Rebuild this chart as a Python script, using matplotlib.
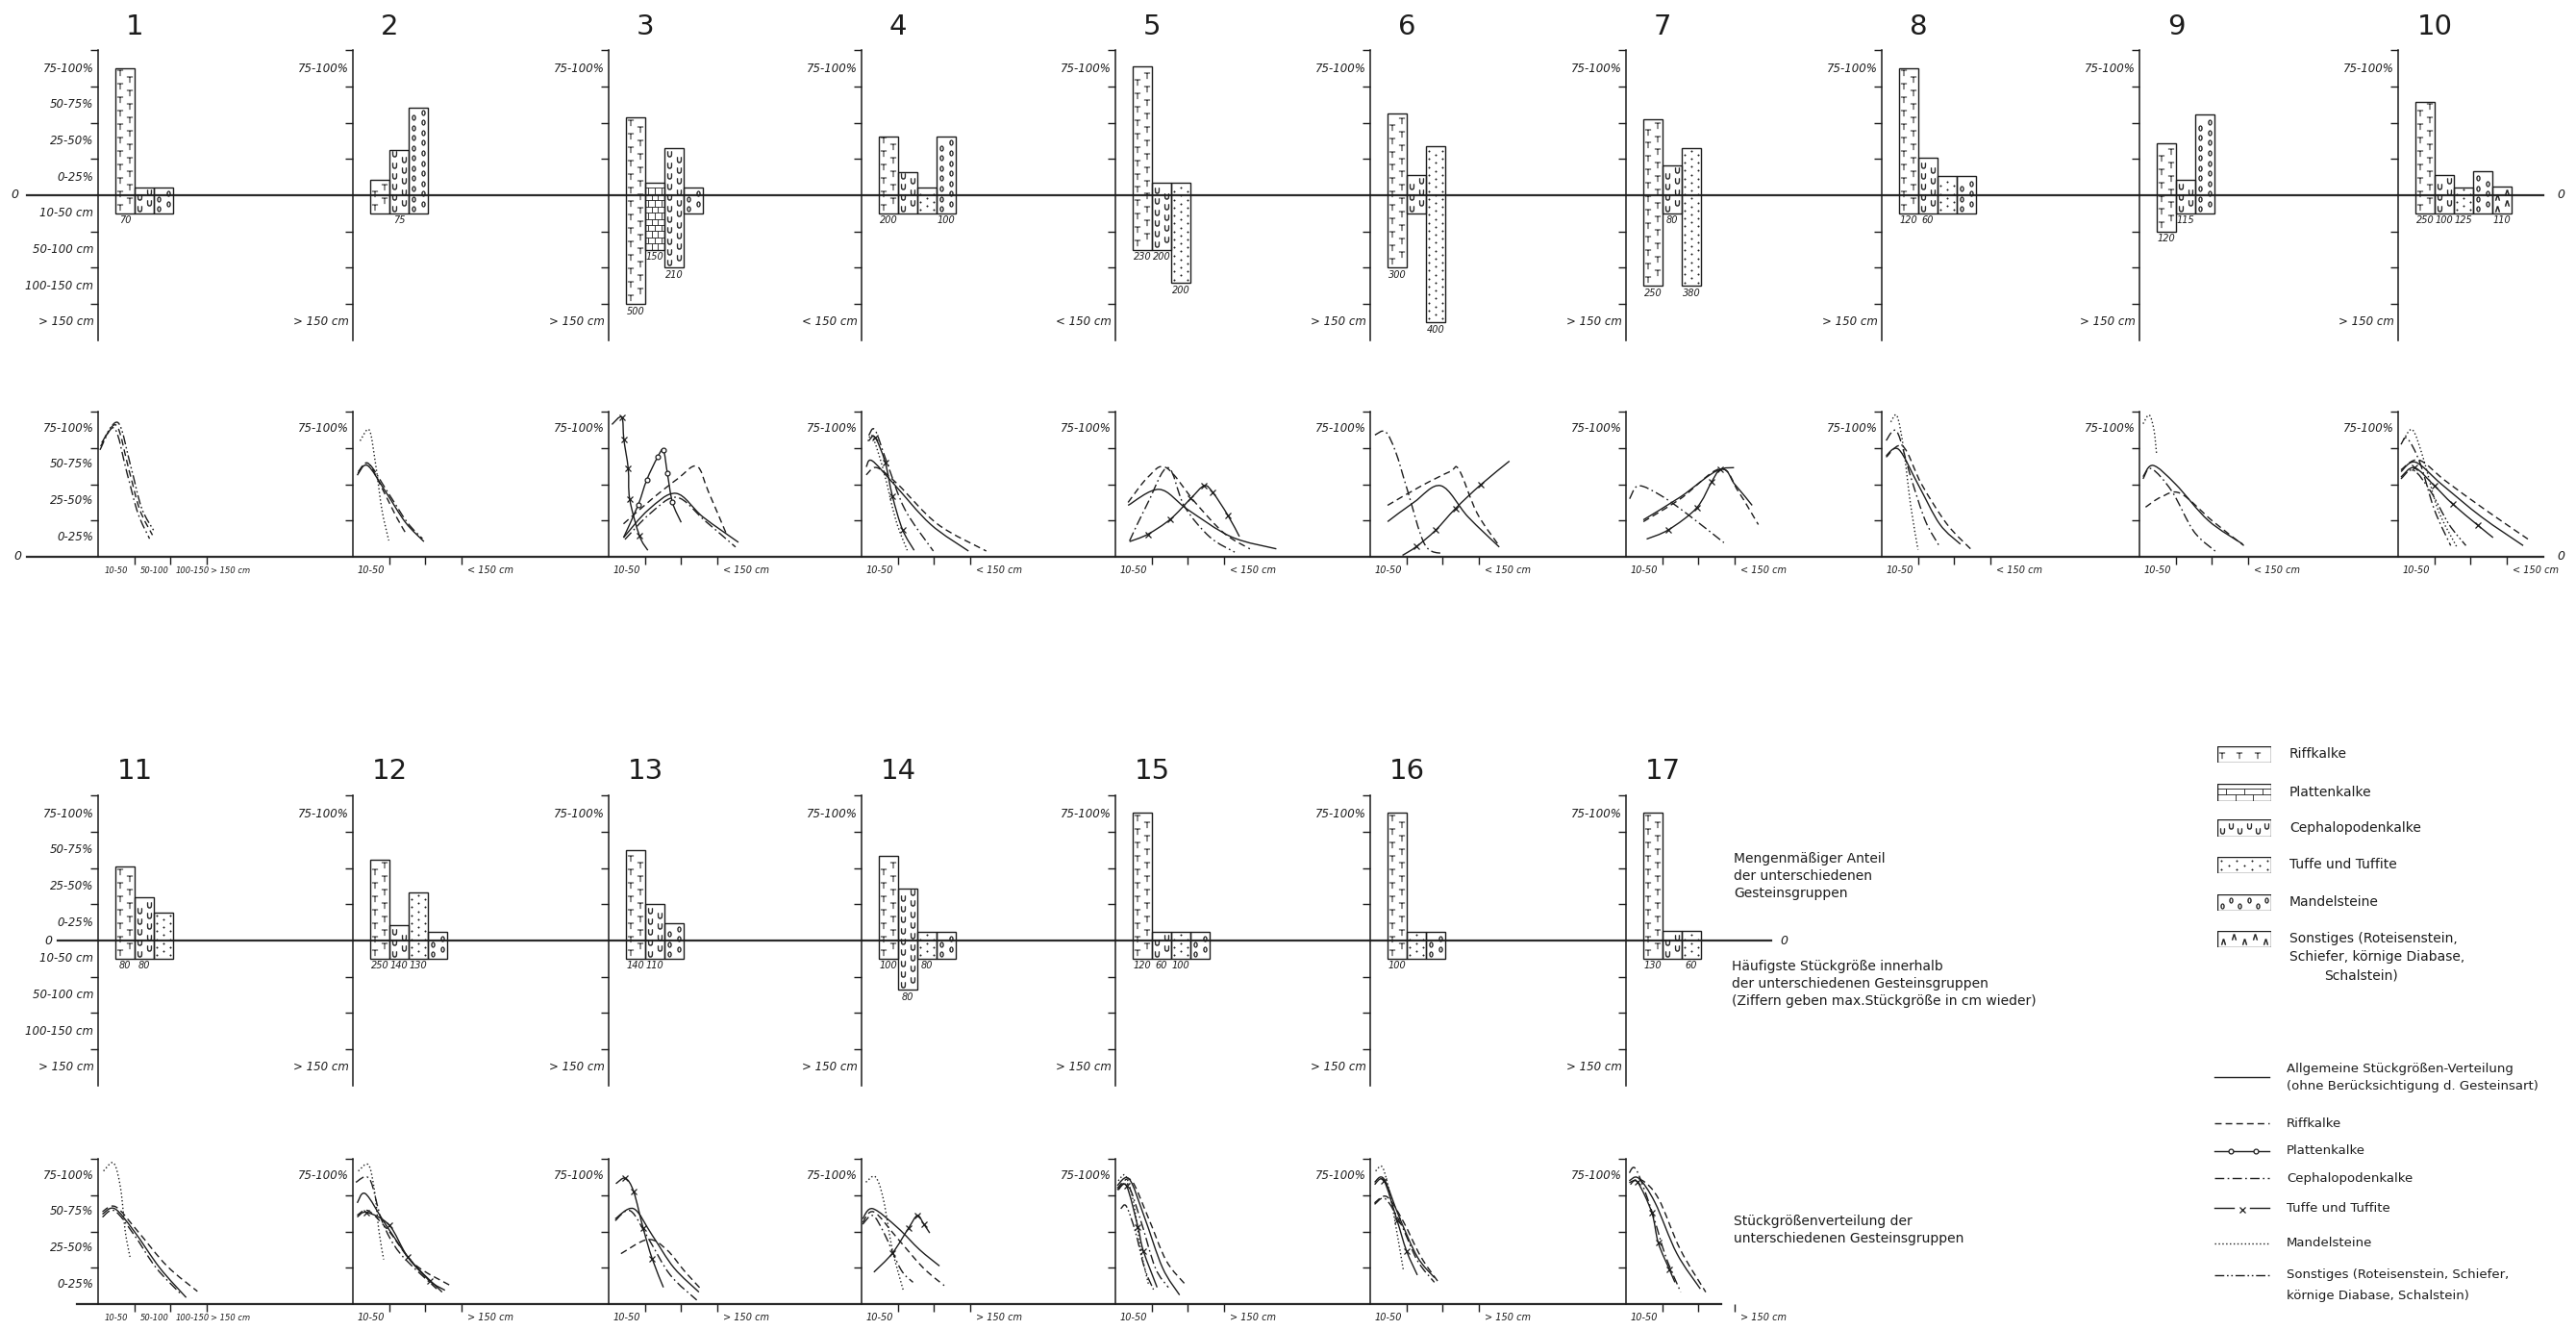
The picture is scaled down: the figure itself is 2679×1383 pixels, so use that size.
import numpy as np
import matplotlib
matplotlib.use("Agg")
import matplotlib.pyplot as plt
from matplotlib.path import Path
from matplotlib.patches import PathPatch, Rectangle
from matplotlib.collections import LineCollection

# ---------------------------------------------------------------- data
panel_titles = [str(i) for i in range(1, 18)]

# bar charts: upward = share (4 units = 100 %), downward = most frequent size class
bar_kinds = [
    ["R", "C", "M"], ["R", "C", "M"], ["R", "P", "C", "M"], ["R", "C", "T", "M"],
    ["R", "C", "T"], ["R", "C", "T"], ["R", "C", "T"], ["R", "C", "T", "M"],
    ["R", "C", "M"], ["R", "C", "T", "M", "S"],
    ["R", "C", "T"], ["R", "C", "T", "M"], ["R", "C", "M"], ["R", "C", "T", "M"],
    ["R", "C", "T", "M"], ["R", "T", "M"], ["R", "C", "T"],
]
bar_tops = [
    [3.51, 0.21, 0.21], [0.43, 1.24, 2.41], [2.14, 0.35, 1.30, 0.21], [1.63, 0.64, 0.21, 1.63],
    [3.56, 0.35, 0.35], [2.25, 0.55, 1.35], [2.10, 0.82, 1.31], [3.51, 1.04, 0.53, 0.53],
    [1.42, 0.42, 2.23], [2.58, 0.56, 0.22, 0.66, 0.24],
    [2.04, 1.19, 0.78], [2.23, 0.42, 1.33, 0.24], [2.50, 1.01, 0.49], [2.34, 1.44, 0.25, 0.25],
    [3.53, 0.25, 0.25, 0.25], [3.54, 0.25, 0.25], [3.54, 0.27, 0.27],
]
bar_bottoms = [
    [-0.5, -0.5, -0.5], [-0.5, -0.5, -0.5], [-3.0, -1.5, -2.0, -0.5], [-0.5, -0.5, -0.5, -0.5],
    [-1.5, -1.5, -2.42], [-2.0, -0.5, -3.5], [-2.5, -0.5, -2.5], [-0.5, -0.5, -0.5, -0.5],
    [-1.0, -0.5, -0.5], [-0.5, -0.5, -0.5, -0.5, -0.5],
    [-0.5, -0.5, -0.5], [-0.5, -0.5, -0.5, -0.5], [-0.5, -0.5, -0.5], [-0.5, -1.36, -0.5, -0.5],
    [-0.5, -0.5, -0.5, -0.5], [-0.5, -0.5, -0.5], [-0.5, -0.5, -0.5],
]
bar_labels = [
    ["70", "", ""], ["", "75", ""], ["500", "150", "210", ""], ["200", "", "", "100"],
    ["230", "200", "200"], ["300", "", "400"], ["250", "80", "380"], ["120", "60", "", ""],
    ["120", "115", ""], ["250", "100", "125", "", "110"],
    ["80", "80", ""], ["250", "140", "130", ""], ["140", "110", ""], ["100", "80", "80", ""],
    ["120", "60", "100", ""], ["100", "", ""], ["130", "", "60"],
]
bar_share_labels = ["75-100%", "50-75%", "25-50%", "0-25%"]
bar_size_labels = ["10-50 cm", "50-100 cm", "100-150 cm", "> 150 cm"]
bar_bottom_label = ["> 150 cm", "> 150 cm", "> 150 cm", "< 150 cm", "< 150 cm", "> 150 cm",
                    "> 150 cm", "> 150 cm", "> 150 cm", "> 150 cm",
                    "> 150 cm", "> 150 cm", "> 150 cm", "> 150 cm", "> 150 cm", "> 150 cm", "> 150 cm"]

# size-distribution curves (G = general distribution)
curve_kinds = [
    ["R", "C", "S"],
    ["M", "G", "C", "R"],
    ["T", "P", "R", "G", "C"],
    ["G", "R", "T", "M", "C"],
    ["R", "C", "G", "T"],
    ["C", "R", "G", "T"],
    ["C", "R", "G", "T"],
    ["M", "C", "G", "R"],
    ["M", "G", "C", "R"],
    ["M", "C", "G", "R", "T", "S"],
    ["M", "G", "R", "C"],
    ["M", "C", "G", "R", "T"],
    ["T", "G", "R", "C"],
    ["M", "G", "R", "C", "T"],
    ["M", "G", "R", "C", "T", "S"],
    ["M", "G", "R", "C", "T"],
    ["C", "G", "R", "T"],
]
curve_x = [
    [[0.07, 0.5, 0.85, 1.15, 1.5], [0.05, 0.45, 0.8, 1.1, 1.42], [0.1, 0.55, 0.9, 1.2, 1.55]],
    [[0.2, 0.45, 0.62, 0.8, 0.99], [0.12, 0.4, 0.9, 1.45, 1.96], [0.14, 0.43, 0.95, 1.5, 1.92],
     [0.15, 0.42, 0.8, 1.2, 1.49]],
    [[0.09, 0.36, 0.42, 0.54, 0.58, 0.85, 1.08], [0.41, 0.81, 1.05, 1.35, 1.51, 1.62, 1.76, 2.0],
     [0.41, 1.2, 1.9, 2.43, 2.75, 3.24], [0.41, 1.1, 1.86, 2.6, 3.58], [0.45, 1.15, 1.88, 2.65, 3.5]],
    [[0.13, 0.29, 0.9, 1.9, 2.95], [0.13, 0.42, 1.0, 2.1, 3.44], [0.2, 0.37, 0.65, 0.85, 1.13, 1.45],
     [0.18, 0.3, 0.6, 0.95, 1.26], [0.2, 0.37, 0.7, 1.2, 1.98]],
    [[0.35, 0.9, 1.4, 2.2, 3.0, 3.71], [0.39, 0.9, 1.45, 1.9, 2.6, 3.29], [0.35, 1.21, 2.0, 3.2, 4.44],
     [0.39, 0.89, 1.52, 2.08, 2.45, 2.69, 3.1, 3.42]],
    [[0.13, 0.42, 0.7, 1.02, 1.5, 1.98], [0.48, 1.4, 2.2, 2.45, 2.95, 3.56], [0.48, 1.2, 1.95, 2.7, 3.56],
     [0.89, 1.27, 1.8, 2.35, 3.04, 3.84]],
    [[0.1, 0.35, 0.98, 1.73, 2.7], [0.48, 1.5, 2.6, 3.1, 3.65], [0.48, 1.5, 2.6, 3.0, 3.48],
     [0.57, 1.18, 1.95, 2.37, 2.6, 2.98]],
    [[0.25, 0.42, 0.6, 0.8, 1.0], [0.12, 0.42, 0.8, 1.2, 1.58], [0.12, 0.47, 1.0, 1.6, 2.17],
     [0.12, 0.58, 1.1, 1.8, 2.45]],
    [[0.1, 0.27, 0.4, 0.47], [0.1, 0.38, 1.0, 1.9, 2.85], [0.1, 0.33, 0.9, 1.5, 2.1],
     [0.17, 0.6, 1.13, 2.0, 2.88]],
    [[0.15, 0.4, 0.7, 1.1, 1.62], [0.08, 0.25, 0.6, 1.0, 1.45], [0.08, 0.48, 1.2, 2.3, 3.45],
     [0.08, 0.57, 1.3, 2.4, 3.58], [0.08, 0.45, 1.0, 1.5, 2.2, 2.62], [0.08, 0.42, 0.9, 1.4, 1.87]],
    [[0.15, 0.43, 0.62, 0.75, 0.88], [0.12, 0.46, 1.0, 1.7, 2.43], [0.12, 0.49, 1.1, 1.9, 2.74],
     [0.12, 0.46, 1.0, 1.6, 2.31]],
    [[0.15, 0.43, 0.6, 0.72, 0.85], [0.08, 0.46, 0.8, 1.3, 2.31], [0.12, 0.35, 0.9, 1.6, 2.46],
     [0.12, 0.43, 1.0, 1.7, 2.69], [0.12, 0.38, 1.0, 1.51, 2.12, 2.54]],
    [[0.2, 0.46, 0.69, 0.95, 1.2, 1.51], [0.18, 0.69, 1.2, 1.8, 2.49], [0.34, 1.08, 1.6, 2.1, 2.54],
     [0.18, 0.6, 1.1, 1.7, 2.43]],
    [[0.12, 0.38, 0.6, 0.85, 1.15], [0.03, 0.31, 1.0, 1.6, 2.15], [0.03, 0.34, 1.0, 1.7, 2.28],
     [0.03, 0.31, 0.62, 1.08, 1.42], [0.34, 0.85, 1.3, 1.54, 1.72, 1.88]],
    [[0.08, 0.28, 0.5, 0.7, 0.92], [0.05, 0.38, 0.8, 1.3, 1.77], [0.05, 0.43, 0.9, 1.4, 1.92],
     [0.05, 0.34, 0.7, 1.1, 1.46], [0.08, 0.31, 0.62, 0.77, 1.15], [0.15, 0.3, 0.55, 0.8, 1.05]],
    [[0.15, 0.34, 0.55, 0.75, 0.92], [0.12, 0.38, 0.8, 1.3, 1.77], [0.12, 0.46, 0.9, 1.4, 1.92],
     [0.12, 0.42, 0.85, 1.3, 1.77], [0.12, 0.38, 0.74, 1.0, 1.3]],
    [[0.09, 0.28, 0.7, 1.1, 1.51], [0.09, 0.35, 0.8, 1.4, 2.05], [0.09, 0.43, 0.9, 1.5, 2.2],
     [0.12, 0.32, 0.71, 0.89, 1.2, 1.35]],
]
curve_y = [
    [[3.05, 3.63, 2.4, 1.3, 0.6], [2.95, 3.55, 2.3, 1.2, 0.5], [3.15, 3.7, 2.5, 1.35, 0.7]],
    [[3.2, 3.5, 2.6, 1.3, 0.45], [2.25, 2.52, 1.8, 0.95, 0.42], [2.3, 2.57, 1.8, 0.95, 0.5],
     [2.35, 2.58, 1.9, 1.1, 0.6]],
    [[3.65, 3.85, 3.23, 2.43, 1.59, 0.58, 0.18], [0.53, 1.42, 2.12, 2.75, 2.94, 2.3, 1.5, 0.95],
     [0.91, 1.6, 2.15, 2.5, 1.8, 0.65], [0.53, 1.3, 1.75, 1.1, 0.4], [0.48, 1.2, 1.64, 1.0, 0.27]],
    [[2.48, 2.65, 2.0, 0.9, 0.16], [2.26, 2.46, 2.0, 0.9, 0.16], [3.2, 3.3, 2.61, 1.68, 0.75, 0.18],
     [3.19, 3.32, 2.4, 1.0, 0.18], [3.35, 3.5, 2.6, 1.3, 0.16]],
    [[1.5, 2.2, 2.46, 1.5, 0.65, 0.22], [0.44, 1.5, 2.46, 1.4, 0.55, 0.13], [1.42, 1.86, 1.3, 0.55, 0.22],
     [0.42, 0.62, 1.04, 1.61, 1.96, 1.77, 1.15, 0.56]],
    [[3.36, 3.45, 2.9, 1.86, 0.35, 0.09], [1.42, 1.95, 2.35, 2.4, 1.2, 0.3], [0.97, 1.5, 1.96, 1.1, 0.27],
     [0.04, 0.28, 0.73, 1.33, 1.98, 2.64]],
    [[1.6, 1.96, 1.68, 1.15, 0.39], [0.97, 1.6, 2.43, 1.8, 0.89], [1.02, 1.65, 2.41, 2.0, 1.42],
     [0.49, 0.75, 1.35, 2.08, 2.41, 2.46]],
    [[3.72, 3.89, 3.0, 1.4, 0.2], [3.21, 3.45, 2.2, 1.0, 0.31], [2.79, 2.96, 2.0, 0.9, 0.35],
     [2.75, 3.05, 2.0, 0.9, 0.22]],
    [[3.67, 3.91, 3.5, 2.86], [2.21, 2.52, 2.0, 1.0, 0.35], [2.15, 2.43, 1.8, 0.7, 0.15],
     [1.37, 1.65, 1.75, 1.0, 0.31]],
    [[3.23, 3.5, 2.7, 1.3, 0.27], [3.1, 3.27, 2.6, 1.3, 0.31], [2.35, 2.61, 2.0, 1.1, 0.31],
     [2.4, 2.67, 2.1, 1.3, 0.49], [2.2, 2.46, 1.96, 1.46, 0.87, 0.53], [2.15, 2.39, 1.8, 0.9, 0.31]],
    [[3.67, 3.89, 3.2, 2.0, 1.3], [2.48, 2.63, 2.0, 1.0, 0.18], [2.55, 2.68, 2.0, 1.05, 0.35],
     [2.4, 2.57, 1.9, 1.0, 0.25]],
    [[3.67, 3.84, 3.1, 2.0, 1.23], [3.36, 3.45, 2.3, 1.4, 0.42], [2.79, 3.04, 2.2, 1.2, 0.33],
     [2.45, 2.57, 2.0, 1.1, 0.51], [2.4, 2.53, 2.18, 1.3, 0.64, 0.38]],
    [[3.32, 3.47, 3.1, 2.1, 1.25, 0.46], [2.35, 2.63, 1.9, 1.0, 0.33], [1.39, 1.78, 1.5, 0.9, 0.42],
     [2.3, 2.57, 1.8, 0.8, 0.11]],
    [[3.36, 3.51, 2.9, 1.5, 0.38], [2.35, 2.63, 2.1, 1.5, 1.05], [2.25, 2.54, 1.8, 1.0, 0.51],
     [2.2, 2.44, 1.96, 0.96, 0.6], [0.88, 1.4, 2.1, 2.44, 2.2, 1.96]],
    [[3.4, 3.54, 2.8, 1.5, 0.51], [3.27, 3.45, 2.4, 1.0, 0.25], [3.2, 3.42, 2.4, 1.2, 0.55],
     [3.15, 3.3, 2.3, 1.0, 0.46], [3.15, 3.25, 2.13, 1.47, 0.46], [2.63, 2.7, 2.0, 1.0, 0.4]],
    [[3.67, 3.77, 3.0, 1.9, 0.9], [3.36, 3.45, 2.4, 1.3, 0.73], [2.79, 2.96, 2.3, 1.3, 0.55],
     [2.75, 2.9, 2.2, 1.2, 0.6], [3.3, 3.4, 2.31, 1.47, 0.8]],
    [[3.62, 3.71, 2.6, 1.3, 0.33], [3.4, 3.47, 2.8, 1.4, 0.42], [3.35, 3.42, 2.9, 1.5, 0.33],
     [3.3, 3.36, 2.53, 1.69, 0.95, 0.6]],
]
line_share_labels = ["75-100%", "50-75%", "25-50%", "0-25%"]
line_class_labels = ["10-50", "50-100", "100-150", "> 150 cm"]
line_end_label = ["> 150 cm"] + ["< 150 cm"] * 9 + ["> 150 cm"] * 7

legend_box_labels = ["Riffkalke", "Plattenkalke", "Cephalopodenkalke", "Tuffe und Tuffite",
                     "Mandelsteine", "Sonstiges (Roteisenstein,"]
legend_line_labels = ["Riffkalke", "Plattenkalke", "Cephalopodenkalke", "Tuffe und Tuffite",
                      "Mandelsteine"]

# ---------------------------------------------------------------- layout
W, H, DPI = 2679, 1383, 100
U = 37.7                      # pixels per unit (one class / one quarter)
INK = "#1c1c1c"
axis_x = [102, 367, 633, 896, 1160, 1425, 1691, 1957, 2225, 2494,
          102, 367, 633, 896, 1160, 1425, 1691]
bar_zero = [203] * 10 + [978] * 7
line_zero = [579] * 10 + [1356] * 7
title_y = [28] * 10 + [802] * 7

LS = {"G": "-", "R": (0, (5, 3)), "P": "-", "C": (0, (7, 2.5, 1.2, 2.5)), "T": "-",
      "M": (0, (1, 1.8)), "S": (0, (7, 2, 1.2, 2, 1.2, 2))}
MK = {"P": "o", "T": "x"}

TITLE_FONT = ["Liberation Sans Narrow", "DejaVu Sans"]
TXT = ["DejaVu Sans"]

fig = plt.figure(figsize=(W / DPI, H / DPI), dpi=DPI)
fig.patch.set_facecolor("white")
ov = fig.add_axes([0, 0, 1, 1], zorder=0)
ov.set_xlim(0, W)
ov.set_ylim(H, 0)
ov.axis("off")


def add_ax(x, ytop, w, h):
    a = fig.add_axes([x / W, 1 - (ytop + h) / H, w / W, h / H], zorder=2)
    a.patch.set_visible(False)
    for s in ("top", "right", "bottom"):
        a.spines[s].set_visible(False)
    a.spines["left"].set_linewidth(1.1)
    a.spines["left"].set_color(INK)
    return a


def fill_pattern(a, kind, x0, w, y0, y1):
    a.add_patch(Rectangle((x0, y0), w, y1 - y0, fill=False, ec=INK, lw=1.0, zorder=4))
    if kind == "P":
        segs = []
        dy = 0.17
        yy = y0 + dy
        k = 0
        while yy < y1 - 0.02:
            segs.append([(x0, yy), (x0 + w, yy)])
            xs = [x0 + w / 3, x0 + 2 * w / 3] if k % 2 == 0 else [x0 + w / 6, x0 + w / 2, x0 + 5 * w / 6]
            for xv in xs:
                segs.append([(xv, yy - dy), (xv, yy)])
            yy += dy
            k += 1
        a.add_collection(LineCollection(segs, colors=INK, linewidths=0.6, zorder=3))
        return
    spec = {"R": ("$\\mathrm{T}$", 0.37, 0.26, 5.0),
            "C": ("$\\cup$", 0.30, 0.26, 4.2),
            "M": ("$0$", 0.28, 0.26, 4.0),
            "S": ("$\\wedge$", 0.30, 0.30, 4.2),
            "T": ("o", 0.22, 0.2, 1.0)}
    mk, dy, cw, ms = spec[kind]
    ncol = max(2, int(round(w / cw)))
    for i in range(ncol):
        cx = x0 + (i + 0.5) * w / ncol
        off = (i % 2) * dy / 2
        ys = np.arange(y0 + dy * 0.45 + off, y1 - dy * 0.3, dy)
        if len(ys) == 0:
            continue
        a.plot([cx] * len(ys), ys, ls="none", marker=mk, ms=ms, color=INK,
               mec=INK, mfc=INK, mew=0.35, zorder=3)


def smooth_path(xs, ys):
    p = np.column_stack([xs, ys]).astype(float)
    n = len(p)
    verts = [p[0]]
    codes = [Path.MOVETO]
    for i in range(n - 1):
        p0 = p[i - 1] if i > 0 else p[i]
        p1, p2 = p[i], p[i + 1]
        p3 = p[i + 2] if i + 2 < n else p[i + 1]
        verts += [p1 + (p2 - p0) / 6, p2 - (p3 - p1) / 6, p2]
        codes += [Path.CURVE4] * 3
    return Path(verts, codes)


BW, B0 = 0.53, 0.48   # bar width / gap to axis in units
lab_kw = dict(fontsize=8.5, style="italic", family=TXT, color=INK)
cls_kw = dict(style="italic", family=TXT, color=INK, ha="center", va="center", clip_on=False)

for p in range(17):
    x0 = axis_x[p]
    # ---------------- bar panel
    zb = bar_zero[p]
    a = add_ax(x0, zb - 4 * U, 4 * U, 8 * U)
    a.set_xlim(0, 4)
    a.set_ylim(-4, 4)
    a.set_xticks([])
    a.set_yticks([-3, -2, -1, 1, 2, 3, 4])
    a.tick_params(axis="y", direction="out", length=6, width=1.0, color=INK, labelleft=False)
    for j, (k, t, b, lb) in enumerate(zip(bar_kinds[p], bar_tops[p], bar_bottoms[p], bar_labels[p])):
        xl = B0 + j * BW
        fill_pattern(a, k, xl, BW, b, t)
        if lb:
            a.text(xl + BW / 2, b - 0.07, lb, ha="center", va="top", fontsize=7,
                   style="italic", family=TXT, color=INK)
    if p in (0, 10):
        for i, s in enumerate(bar_share_labels):
            a.text(-0.12, 3.5 - i, s, ha="right", va="center", clip_on=False, **lab_kw)
        for i, s in enumerate(bar_size_labels):
            a.text(-0.12, -0.5 - i, s, ha="right", va="center", clip_on=False, **lab_kw)
    else:
        a.text(-0.12, 3.5, bar_share_labels[0], ha="right", va="center", clip_on=False, **lab_kw)
        a.text(-0.12, -3.5, bar_bottom_label[p], ha="right", va="center", clip_on=False, **lab_kw)
    ov.text(x0 + 38, title_y[p], panel_titles[p], ha="center", va="center",
            fontsize=21, family=TITLE_FONT, color=INK)

    # ---------------- curve panel
    zl = line_zero[p]
    c = add_ax(x0, zl - 4 * U, 5 * U, 4 * U)
    c.set_xlim(0, 5)
    c.set_ylim(0, 4)
    c.set_yticks([1, 2, 3, 4])
    c.set_xticks([1, 2, 3])
    c.tick_params(axis="y", direction="out", length=6, width=1.0, color=INK, labelleft=False)
    c.tick_params(axis="x", direction="out", length=6, width=1.0, color=INK, labelbottom=False)
    for k, xs, ys in zip(curve_kinds[p], curve_x[p], curve_y[p]):
        c.add_patch(PathPatch(smooth_path(xs, ys), fill=False, ec=INK, lw=1.0,
                              ls=LS[k], zorder=3, capstyle="butt"))
        if k in MK:
            c.plot(xs[1:-1], ys[1:-1], ls="none", marker=MK[k], ms=3.5 if k == "P" else 4.5,
                   mfc="white" if k == "P" else INK, mec=INK, mew=0.9, zorder=4)
    if p in (0, 10):
        for i, s in enumerate(line_share_labels):
            c.text(-0.12, 3.55 - i, s, ha="right", va="center", clip_on=False, **lab_kw)
        for i, s in enumerate(line_class_labels):
            c.text(0.5 + i * 1.05, -0.38, s, fontsize=6.0, **cls_kw)
    else:
        c.text(-0.12, 3.55, line_share_labels[0], ha="right", va="center", clip_on=False, **lab_kw)
        c.text(0.5, -0.38, line_class_labels[0], fontsize=7, **cls_kw)
        c.text(3.8, -0.38, line_end_label[p], fontsize=7, **cls_kw)

# ---------------- continuous zero lines
zl_kw = dict(color="#2a2a2a", lw=1.6, zorder=1)
ov.plot([28, 2645], [203, 203], **zl_kw)
ov.plot([28, 2645], [579, 579], **zl_kw)
ov.plot([60, 1842], [978, 978], **zl_kw)
ov.plot([80, 1790], [1356, 1356], **zl_kw)
zk = dict(fontsize=9, style="italic", family=TXT, color=INK, ha="center", va="center")
ov.text(15, 203, "0", **zk)
ov.text(2663, 203, "0", **zk)
ov.text(18, 579, "0", **zk)
ov.text(2663, 578, "0", **zk)
ov.text(50, 978, "0", **zk)
ov.text(1855, 978, "0", **zk)

# ---------------- explanatory texts
tk = dict(fontsize=10, family=TXT, color=INK, ha="left", va="top", linespacing=1.35)
ov.text(1803, 886, "Mengenmäßiger Anteil\nder unterschiedenen\nGesteinsgruppen", **tk)
ov.text(1801, 998, "Häufigste Stückgröße innerhalb\nder unterschiedenen Gesteinsgruppen\n"
        "(Ziffern geben max.Stückgröße in cm wieder)", **tk)
ov.text(1803, 1263, "Stückgrößenverteilung der\nunterschiedenen Gesteinsgruppen", **tk)

# ---------------- pattern legend
box_y = [784, 824, 861, 899, 938, 976]
for k, yc, s in zip(["R", "P", "C", "T", "M", "S"], box_y, legend_box_labels):
    bw, bh = 56, 17
    la = add_ax(2306, yc - bh / 2, bw, bh)
    la.spines["left"].set_visible(False)
    la.set_xticks([]); la.set_yticks([])
    la.set_xlim(0, bw / U); la.set_ylim(0, bh / U)
    fill_pattern(la, k, 0, bw / U, 0, bh / U)
    ov.text(2381, yc, s, fontsize=10, family=TXT, color=INK, ha="left", va="center")
ov.text(2381, 995, "Schiefer, körnige Diabase,", fontsize=10, family=TXT, color=INK, ha="left", va="center")
ov.text(2455, 1014, "Schalstein)", fontsize=10, family=TXT, color=INK, ha="center", va="center")

# ---------------- line legend
lx0, lx1 = 2303, 2360
ov.plot([lx0, lx1], [1120, 1120], color=INK, lw=1.0)
ov.text(2378, 1112, "Allgemeine Stückgrößen-Verteilung", fontsize=9.5, family=TXT, color=INK, va="center")
ov.text(2378, 1130, "(ohne Berücksichtigung d. Gesteinsart)", fontsize=9.5, family=TXT, color=INK, va="center")
leg_y = [1168, 1197, 1225, 1256, 1293]
for k, yy, s in zip(["R", "P", "C", "T", "M"], leg_y, legend_line_labels):
    if k == "T":
        ov.plot([lx0, lx0 + 20], [yy, yy], color=INK, lw=1.0)
        ov.plot([lx1 - 20, lx1], [yy, yy], color=INK, lw=1.0)
        ov.plot([lx0 + 28.5], [yy + 2], ls="none", marker="x", ms=4.5, mec=INK, mew=0.9)
    else:
        ov.plot([lx0, lx1], [yy, yy], color=INK, lw=1.0, ls=LS[k])
    if k == "P":
        ov.plot([lx0 + 17, lx0 + 43], [yy, yy], ls="none", marker="o", ms=3.5, mfc="white", mec=INK, mew=0.9)
    ov.text(2378, yy, s, fontsize=9.5, family=TXT, color=INK, va="center")
ov.plot([lx0, lx1], [1326, 1326], color=INK, lw=1.0, ls=LS["S"])
ov.text(2378, 1326, "Sonstiges (Roteisenstein, Schiefer,", fontsize=9.5, family=TXT, color=INK, va="center")
ov.text(2378, 1347, "körnige Diabase, Schalstein)", fontsize=9.5, family=TXT, color=INK, va="center")

fig.savefig("out.png", dpi=DPI, facecolor="white")
